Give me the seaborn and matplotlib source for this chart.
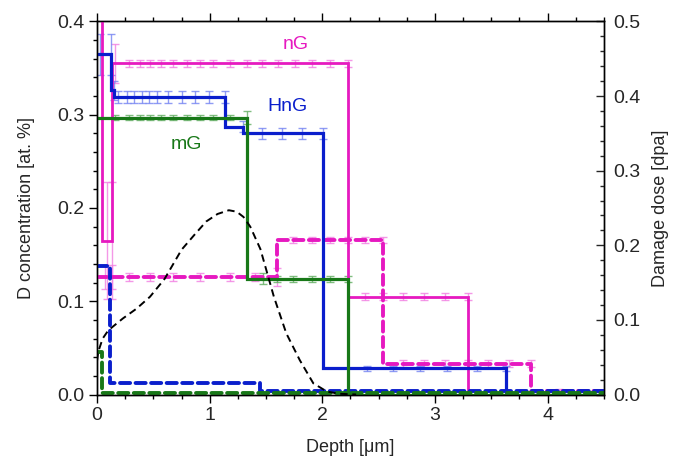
import numpy as np
import pandas as pd
import matplotlib
matplotlib.use("Agg")
import matplotlib.pyplot as plt
import seaborn as sns
from matplotlib.ticker import MultipleLocator

# ---- D depth profiles: layer boundaries [um], D concentration [at. %], uncertainty ----
# nG (solid)
ng_edges = [0, 0.047, 0.09, 0.13, 0.16, 0.28, 0.38, 0.47, 0.57, 0.67, 0.80, 0.91, 1.03,
            1.18, 1.33, 1.46, 1.61, 1.76, 1.91, 2.07, 2.23, 2.38, 2.54, 2.72, 2.90, 3.09,
            3.29, 4.5]
ng_conc = [0.50, 0.165, 0.165, 0.355,
           0.355, 0.355, 0.355, 0.355, 0.355, 0.355, 0.355, 0.355, 0.355, 0.355, 0.355,
           0.355, 0.355, 0.355, 0.355, 0.355,
           0.105, 0.105, 0.105, 0.105, 0.105, 0.105, 0.0]
ng_err = [np.nan, 0.063, 0.063, 0.021,
          0.004, 0.004, 0.004, 0.004, 0.004, 0.004, 0.004, 0.004, 0.004, 0.004, 0.004,
          0.004, 0.004, 0.004, 0.004, 0.004,
          0.004, 0.004, 0.004, 0.004, 0.004, 0.004, np.nan]

# nG (dashed)
ngd_edges = [0, 0.07, 0.13, 0.28, 0.47, 0.67, 0.91, 1.18, 1.40, 1.60, 1.74, 1.91, 2.07,
             2.23, 2.38, 2.54, 2.72, 2.90, 3.09, 3.29, 3.47, 3.66, 3.85, 4.10, 4.5]
ngd_conc = [0.126, 0.126, 0.126, 0.126, 0.126, 0.126, 0.126, 0.126, 0.126,
            0.166, 0.166, 0.166, 0.166, 0.166, 0.166,
            0.033, 0.033, 0.033, 0.033, 0.033, 0.033, 0.033,
            0.004, 0.004]
ngd_err = [0.013, 0.013, 0.004, 0.004, 0.004, 0.004, 0.004, 0.004, 0.010,
           0.003, 0.003, 0.003, 0.003, 0.003, 0.003,
           0.004, 0.004, 0.004, 0.004, 0.004, 0.004, 0.004,
           0.002, np.nan]

# HnG (solid)
hng_edges = [0, 0.03, 0.12, 0.15, 0.19, 0.27, 0.33, 0.40, 0.46, 0.53, 0.63, 0.75, 0.87,
             0.99, 1.14, 1.30, 1.46, 1.64, 1.82, 2.01, 2.40, 2.63, 2.87, 3.11, 3.37,
             3.63, 4.5]
hng_conc = [0.365, 0.365, 0.326,
            0.319, 0.319, 0.319, 0.319, 0.319, 0.319, 0.319, 0.319, 0.319, 0.319, 0.319,
            0.287, 0.280, 0.280, 0.280, 0.280,
            0.028, 0.028, 0.028, 0.028, 0.028, 0.028, 0.0]
hng_err = [0.022, 0.022, 0.010,
           0.006, 0.006, 0.006, 0.006, 0.006, 0.006, 0.006, 0.006, 0.006, 0.006, 0.006,
           0.006, 0.006, 0.006, 0.006, 0.006,
           0.003, 0.003, 0.003, 0.003, 0.003, 0.003, np.nan]

# HnG (dashed)
hngd_edges = [0, 0.115, 1.45, 4.5]
hngd_conc = [0.138, 0.0127, 0.004]

# mG (solid)
mg_edges = [0, 0.16, 0.28, 0.38, 0.47, 0.57, 0.67, 0.80, 0.91, 1.03, 1.18, 1.33, 1.47,
            1.60, 1.74, 1.91, 2.07, 2.23, 4.5]
mg_conc = [0.297, 0.297, 0.297, 0.297, 0.297, 0.297, 0.297, 0.297, 0.297, 0.297, 0.297,
           0.124, 0.124, 0.124, 0.124, 0.124, 0.124, 0.0]
mg_err = [0.003, 0.003, 0.003, 0.003, 0.003, 0.003, 0.003, 0.003, 0.003, 0.003, 0.007,
          0.006, 0.003, 0.003, 0.003, 0.003, 0.003, np.nan]

# mG (dashed)
mgd_edges = [0, 0.04, 4.5]
mgd_conc = [0.046, 0.0015]

# ---- damage dose profile (right axis) ----
dose_depth = [0.0, 0.01, 0.05, 0.10, 0.23, 0.35, 0.47, 0.60, 0.75, 0.87, 0.97, 1.07,
              1.17, 1.24, 1.30, 1.36, 1.45, 1.57, 1.68, 1.80, 1.92, 2.04, 2.15, 2.30]
dose_dpa = [0.045, 0.057, 0.075, 0.086, 0.102, 0.115, 0.131, 0.155, 0.194, 0.215, 0.232,
            0.242, 0.247, 0.245, 0.238, 0.225, 0.195, 0.131, 0.082, 0.046, 0.015, 0.004,
            0.001, 0.0]

# ---- colours ----
C_NG, C_NG_ERR = "#E619C0", "#F27FE2"
C_HNG, C_HNG_ERR = "#0A1ECC", "#7483F2"
C_MG, C_MG_ERR = "#187818", "#62AE62"

sns.set_style("ticks")
plt.rcParams["font.family"] = ["Liberation Sans", "DejaVu Sans"]
plt.rcParams["axes.linewidth"] = 1.0

fig = plt.figure(figsize=(6.79, 4.59), dpi=100)
ax = fig.add_axes([0.1429, 0.1405, 0.8895 - 0.1429, 0.9532 - 0.1405])


def step_frame(edges, values):
    return pd.DataFrame({"depth": list(edges), "conc": list(values) + [values[-1]]})


def draw_steps(axis, edges, values, color, lw, dashed=False, z=3):
    ls = (0, (2.6, 1.4)) if dashed else "-"
    sns.lineplot(data=step_frame(edges, values), x="depth", y="conc", ax=axis,
                 color=color, lw=lw, linestyle=ls, drawstyle="steps-post",
                 estimator=None, sort=False, legend=False, zorder=z)
    line = axis.lines[-1]
    line.set_dash_capstyle("round")
    line.set_solid_joinstyle("miter")


def draw_errors(axis, edges, values, errs, color):
    x = np.asarray(edges[1:], float)
    y = np.asarray(values, float)
    e = np.asarray(errs, float)
    ok = ~np.isnan(e)
    axis.errorbar(x[ok], y[ok], yerr=e[ok], fmt="none", ecolor=color, elinewidth=1.0,
                  capsize=3, capthick=1.0, alpha=0.8, zorder=2)


# error bars beneath the profiles
draw_errors(ax, ng_edges, ng_conc, ng_err, C_NG_ERR)
draw_errors(ax, ngd_edges, ngd_conc, ngd_err, C_NG_ERR)
draw_errors(ax, hng_edges, hng_conc, hng_err, C_HNG_ERR)
draw_errors(ax, mg_edges, mg_conc, mg_err, C_MG_ERR)

# step profiles
draw_steps(ax, ng_edges, ng_conc, C_NG, 2.0, z=3)
draw_steps(ax, ngd_edges, ngd_conc, C_NG, 2.8, dashed=True, z=3)
draw_steps(ax, hng_edges, hng_conc, C_HNG, 2.3, z=4)
draw_steps(ax, hngd_edges, hngd_conc, C_HNG, 2.8, dashed=True, z=4)
draw_steps(ax, mg_edges, mg_conc, C_MG, 2.3, z=5)
draw_steps(ax, mgd_edges, mgd_conc, C_MG, 2.8, dashed=True, z=5)

ax.set_xlim(0, 4.5)
ax.set_ylim(0, 0.4)
ax.xaxis.set_major_locator(MultipleLocator(1))
ax.xaxis.set_minor_locator(MultipleLocator(0.25))
ax.yaxis.set_major_locator(MultipleLocator(0.1))
ax.yaxis.set_minor_locator(MultipleLocator(0.02))
ax.yaxis.set_major_formatter(plt.FormatStrFormatter("%.1f"))
ax.tick_params(which="both", direction="out", top=True, right=False,
               labelsize=14, color="black", width=1.0, pad=3)
ax.tick_params(which="major", length=6)
ax.tick_params(which="minor", length=3)
ax.set_xlabel("Depth [\u03bcm]", fontsize=13, labelpad=11)
ax.set_ylabel("D concentration [at. %]", fontsize=13, labelpad=16)

ax.text(1.76, 0.375, "nG", color=C_NG, fontsize=14, ha="center", va="center")
ax.text(1.69, 0.309, "HnG", color=C_HNG, fontsize=14, ha="center", va="center")
ax.text(0.79, 0.268, "mG", color=C_MG, fontsize=14, ha="center", va="center")

# damage dose on the right-hand axis
ax2 = ax.twinx()
dose_df = pd.DataFrame({"depth": dose_depth, "dose": dose_dpa})
sns.lineplot(data=dose_df, x="depth", y="dose", ax=ax2, color="black", lw=1.4,
             linestyle=(0, (3.8, 2.4)), estimator=None, sort=False, legend=False)
ax2.set_ylim(0, 0.5)
ax2.set_xlim(0, 4.5)
ax2.yaxis.set_major_locator(MultipleLocator(0.1))
ax2.yaxis.set_minor_locator(MultipleLocator(0.02))
ax2.yaxis.set_major_formatter(plt.FormatStrFormatter("%.1f"))
ax2.tick_params(axis="y", which="both", direction="in", left=False, right=True,
                labelsize=14, width=1.0, pad=7)
ax2.tick_params(axis="y", which="major", length=6)
ax2.tick_params(axis="y", which="minor", length=3)
ax2.set_ylabel("Damage dose [dpa]", fontsize=13, labelpad=8)
ax2.set_xlabel("")

for a in (ax, ax2):
    for s in a.spines.values():
        s.set_visible(True)
        s.set_color("black")
        s.set_linewidth(1.0)

fig.savefig("out.png", dpi=100)
